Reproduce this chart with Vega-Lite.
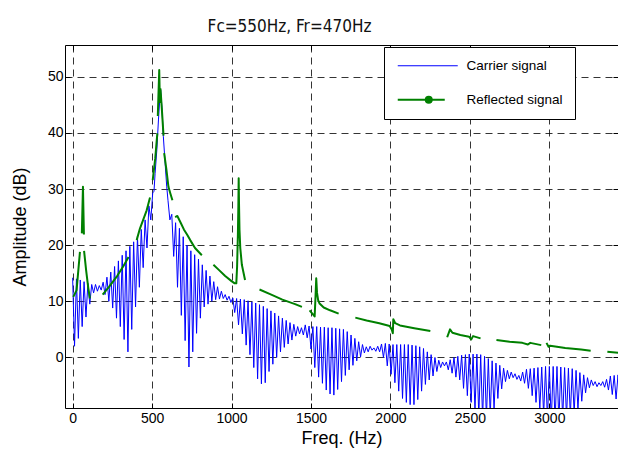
{
  "$schema": "https://vega.github.io/schema/vega-lite/v6.json",
  "width": 553,
  "height": 363,
  "autosize": {"type": "none"},
  "padding": {"left": 65, "top": 45, "right": 0, "bottom": 46},
  "background": "white",
  "title": {
    "text": "Fc=550Hz, Fr=470Hz",
    "anchor": "middle",
    "dx": -52,
    "dy": 22,
    "offset": 18,
    "baseline": "alphabetic",
    "font": "Liberation Sans Narrow, DejaVu Sans Condensed, sans-serif",
    "fontSize": 17,
    "fontWeight": "normal",
    "color": "#111"
  },
  "config": {
    "view": {"stroke": "#000", "strokeWidth": 1},
    "font": "Liberation Sans"
  },
  "datasets": {
    "carrier": [
      {"f":0,"a":14.2},{"f":12,"a":2.0},{"f":24,"a":14.0},{"f":36,"a":3.4},{"f":48,"a":13.8},{"f":60,"a":5.5},{"f":72,"a":13.5},{"f":84,"a":7.2},{"f":96,"a":13.2},{"f":108,"a":9.5},
      {"f":120,"a":13.0},{"f":132,"a":11.5},{"f":144,"a":13.0},{"f":156,"a":11.8},{"f":168,"a":12.8},{"f":180,"a":12.0},{"f":192,"a":13.4},{"f":204,"a":11.2},{"f":216,"a":14.3},{"f":228,"a":10.0},
      {"f":240,"a":15.2},{"f":252,"a":8.8},{"f":264,"a":16.2},{"f":276,"a":7.0},{"f":288,"a":17.2},{"f":300,"a":5.5},{"f":312,"a":18.2},{"f":324,"a":3.2},{"f":336,"a":19.0},{"f":348,"a":1.0},
      {"f":360,"a":19.8},{"f":372,"a":5.0},{"f":384,"a":20.6},{"f":396,"a":9.0},{"f":408,"a":21.6},{"f":420,"a":12.5},{"f":432,"a":22.8},{"f":444,"a":16.0},{"f":456,"a":24.5},{"f":468,"a":19.5},
      {"f":480,"a":27.0},{"f":492,"a":24.5},{"f":504,"a":29.3},{"f":512,"a":29.6},{"f":519,"a":32.8},{"f":530,"a":37.0},{"f":540,"a":42.3},{"f":548,"a":45.8},{"f":554,"a":47.6},{"f":562,"a":44.5},
      {"f":571,"a":39.3},{"f":582,"a":34.6},{"f":592,"a":30.5},{"f":600,"a":28.0},
      {"f":612,"a":24.5},{"f":624,"a":25.5},{"f":636,"a":18.0},{"f":648,"a":24.0},{"f":660,"a":12.5},{"f":672,"a":23.0},{"f":684,"a":7.5},{"f":696,"a":21.5},{"f":708,"a":3.0},{"f":720,"a":20.0},
      {"f":732,"a":-1.7},{"f":744,"a":19.0},{"f":756,"a":1.0},{"f":768,"a":18.3},{"f":780,"a":4.3},{"f":792,"a":17.5},{"f":804,"a":7.0},{"f":816,"a":16.5},{"f":828,"a":9.0},{"f":840,"a":15.5},
      {"f":852,"a":9.5},{"f":864,"a":14.5},{"f":876,"a":10.0},{"f":888,"a":13.5},{"f":900,"a":10.3},{"f":912,"a":12.6},{"f":924,"a":10.4},{"f":936,"a":11.8},{"f":948,"a":10.5},{"f":960,"a":11.2},
      {"f":972,"a":10.2},{"f":984,"a":10.9},{"f":996,"a":9.8},{"f":1008,"a":10.6},{"f":1020,"a":8.0},{"f":1032,"a":10.5},{"f":1044,"a":5.8},{"f":1056,"a":10.4},{"f":1068,"a":4.2},{"f":1080,"a":10.3},
      {"f":1092,"a":2.2},{"f":1104,"a":10.1},{"f":1116,"a":0.5},{"f":1128,"a":9.9},{"f":1140,"a":-1.8},{"f":1152,"a":9.7},{"f":1164,"a":-3.8},{"f":1176,"a":9.4},{"f":1188,"a":-4.7},{"f":1200,"a":9.1},
      {"f":1212,"a":-4.5},{"f":1224,"a":8.7},{"f":1236,"a":-2.5},{"f":1248,"a":8.3},{"f":1260,"a":-1.2},{"f":1272,"a":7.9},{"f":1284,"a":0.0},{"f":1296,"a":7.4},{"f":1308,"a":1.0},{"f":1320,"a":7.0},
      {"f":1332,"a":1.8},{"f":1344,"a":6.6},{"f":1356,"a":2.4},{"f":1368,"a":6.2},{"f":1380,"a":3.1},{"f":1392,"a":5.9},{"f":1404,"a":3.8},{"f":1416,"a":5.5},{"f":1428,"a":4.2},{"f":1440,"a":5.3},
      {"f":1452,"a":4.0},{"f":1464,"a":5.8},{"f":1476,"a":3.5},{"f":1488,"a":5.6},{"f":1500,"a":1.5},{"f":1512,"a":5.5},{"f":1524,"a":-1.8},{"f":1536,"a":5.5},{"f":1548,"a":-3.5},{"f":1560,"a":5.4},
      {"f":1572,"a":-4.6},{"f":1584,"a":5.4},{"f":1596,"a":-5.8},{"f":1608,"a":5.3},{"f":1620,"a":-6.5},{"f":1632,"a":5.3},{"f":1644,"a":-6.7},{"f":1656,"a":5.2},{"f":1668,"a":-5.7},{"f":1680,"a":5.1},
      {"f":1692,"a":-4.3},{"f":1704,"a":5.0},{"f":1716,"a":-3.2},{"f":1728,"a":4.6},{"f":1740,"a":-2.2},{"f":1752,"a":4.0},{"f":1764,"a":-1.4},{"f":1776,"a":3.4},{"f":1788,"a":-0.6},{"f":1800,"a":2.8},
      {"f":1812,"a":0.1},{"f":1824,"a":2.3},{"f":1836,"a":0.8},{"f":1848,"a":1.9},{"f":1860,"a":1.0},{"f":1872,"a":2.0},{"f":1884,"a":1.3},{"f":1896,"a":1.7},{"f":1908,"a":1.1},{"f":1920,"a":2.0},
      {"f":1932,"a":1.0},{"f":1944,"a":2.4},{"f":1956,"a":0.0},{"f":1968,"a":2.5},{"f":1980,"a":-1.5},{"f":1992,"a":2.4},{"f":2004,"a":-3.0},{"f":2016,"a":2.3},{"f":2028,"a":-4.5},{"f":2040,"a":2.3},
      {"f":2052,"a":-6.0},{"f":2064,"a":2.3},{"f":2076,"a":-7.3},{"f":2088,"a":2.3},{"f":2100,"a":-8.0},{"f":2112,"a":2.3},{"f":2124,"a":-8.4},{"f":2136,"a":2.2},{"f":2148,"a":-8.4},{"f":2160,"a":2.1},
      {"f":2172,"a":-7.5},{"f":2184,"a":1.9},{"f":2196,"a":-6.0},{"f":2208,"a":1.6},{"f":2220,"a":-4.8},{"f":2232,"a":1.0},{"f":2244,"a":-4.0},{"f":2256,"a":0.5},{"f":2268,"a":-3.3},{"f":2280,"a":0.0},
      {"f":2292,"a":-2.5},{"f":2304,"a":-0.5},{"f":2316,"a":-1.8},{"f":2328,"a":-0.8},{"f":2340,"a":-1.5},{"f":2352,"a":-0.8},{"f":2364,"a":-2.2},{"f":2376,"a":-0.4},{"f":2388,"a":-2.8},{"f":2400,"a":0.0},
      {"f":2412,"a":-3.5},{"f":2424,"a":0.2},{"f":2436,"a":-4.0},{"f":2448,"a":0.4},{"f":2460,"a":-5.5},{"f":2472,"a":0.5},{"f":2484,"a":-6.8},{"f":2496,"a":0.6},{"f":2508,"a":-8.0},{"f":2520,"a":0.6},
      {"f":2532,"a":-9.5},{"f":2544,"a":0.6},{"f":2556,"a":-10.5},{"f":2568,"a":0.5},{"f":2580,"a":-11.0},{"f":2592,"a":0.2},{"f":2604,"a":-11.0},{"f":2616,"a":-0.2},{"f":2628,"a":-10.5},{"f":2640,"a":-0.6},
      {"f":2652,"a":-9.3},{"f":2664,"a":-1.0},{"f":2676,"a":-7.3},{"f":2688,"a":-1.4},{"f":2700,"a":-5.6},{"f":2712,"a":-1.9},{"f":2724,"a":-4.3},{"f":2736,"a":-2.3},{"f":2748,"a":-3.8},{"f":2760,"a":-2.6},
      {"f":2772,"a":-3.6},{"f":2784,"a":-2.9},{"f":2796,"a":-3.9},{"f":2808,"a":-3.2},{"f":2820,"a":-4.2},{"f":2832,"a":-2.6},{"f":2844,"a":-4.6},{"f":2856,"a":-2.1},{"f":2868,"a":-5.5},{"f":2880,"a":-2.0},
      {"f":2892,"a":-6.8},{"f":2904,"a":-1.9},{"f":2916,"a":-8.0},{"f":2928,"a":-1.8},{"f":2940,"a":-9.2},{"f":2952,"a":-1.7},{"f":2964,"a":-10.3},{"f":2976,"a":-1.6},{"f":2988,"a":-11.0},{"f":3000,"a":-1.6},
      {"f":3012,"a":-11.5},{"f":3024,"a":-1.6},{"f":3036,"a":-11.5},{"f":3048,"a":-1.6},{"f":3060,"a":-11.5},{"f":3072,"a":-1.7},{"f":3084,"a":-11.0},{"f":3096,"a":-1.8},{"f":3108,"a":-10.8},{"f":3120,"a":-1.9},
      {"f":3132,"a":-10.5},{"f":3144,"a":-2.0},{"f":3156,"a":-10.0},{"f":3168,"a":-2.3},{"f":3180,"a":-9.2},{"f":3192,"a":-2.7},{"f":3204,"a":-7.8},{"f":3216,"a":-3.1},{"f":3228,"a":-6.3},{"f":3240,"a":-3.6},
      {"f":3252,"a":-5.4},{"f":3264,"a":-4.0},{"f":3276,"a":-5.0},{"f":3288,"a":-4.3},{"f":3300,"a":-5.2},{"f":3312,"a":-4.5},{"f":3324,"a":-5.0},{"f":3336,"a":-4.3},{"f":3348,"a":-5.3},{"f":3360,"a":-3.9},
      {"f":3372,"a":-5.8},{"f":3384,"a":-3.3},{"f":3396,"a":-6.6},{"f":3408,"a":-3.2},{"f":3420,"a":-7.4},{"f":3432,"a":-3.1},{"f":3444,"a":-7.8}
    ],
    "reflected": [
      {"f":4,"a":10.8,"s":1},{"f":25,"a":12.0,"s":1},{"f":46,"a":18.8,"s":1},
      {"f":58,"a":22.1,"s":2},{"f":65,"a":30.4,"s":2},{"f":71,"a":21.9,"s":2},
      {"f":72,"a":19.0,"s":3},{"f":85,"a":15.5,"s":3},{"f":98,"a":12.5,"s":3},{"f":109,"a":10.5,"s":3},
      {"f":189,"a":11.2,"s":4},{"f":230,"a":12.6,"s":4},{"f":280,"a":14.5,"s":4},{"f":320,"a":16.3,"s":4},{"f":352,"a":17.9,"s":4},
      {"f":403,"a":20.9,"s":5},{"f":424,"a":23.0,"s":5},{"f":466,"a":26.2,"s":5},{"f":487,"a":28.5,"s":5},
      {"f":504,"a":31.6,"s":6},{"f":520,"a":35.5,"s":6},{"f":533,"a":39.9,"s":6},
      {"f":536,"a":43.0,"s":7},{"f":545,"a":51.2,"s":7},{"f":549,"a":45.5,"s":7},{"f":553,"a":47.8,"s":7},{"f":562,"a":44.0,"s":7},{"f":572,"a":39.5,"s":7},
      {"f":576,"a":36.4,"s":8},{"f":590,"a":33.5,"s":8},{"f":603,"a":30.4,"s":8},{"f":615,"a":29.2,"s":8},{"f":628,"a":28.0,"s":8},
      {"f":645,"a":25.0,"s":9},{"f":659,"a":25.2,"s":9},{"f":680,"a":24.0,"s":9},{"f":700,"a":22.8,"s":9},{"f":720,"a":21.9,"s":9},{"f":740,"a":20.9,"s":9},{"f":770,"a":19.5,"s":9},{"f":813,"a":18.2,"s":9},
      {"f":886,"a":16.5,"s":10},{"f":920,"a":15.6,"s":10},{"f":960,"a":14.5,"s":10},{"f":1000,"a":13.6,"s":10},{"f":1020,"a":13.2,"s":10},{"f":1030,"a":13.2,"s":10},{"f":1035,"a":16.2,"s":10},{"f":1040,"a":22.0,"s":10},{"f":1043,"a":27.0,"s":10},{"f":1045,"a":31.9,"s":10},{"f":1047,"a":27.5,"s":10},{"f":1050,"a":22.8,"s":10},{"f":1055,"a":19.5,"s":10},{"f":1065,"a":16.5,"s":10},{"f":1085,"a":13.8,"s":10},
      {"f":1176,"a":12.1,"s":11},{"f":1250,"a":11.2,"s":11},{"f":1320,"a":10.3,"s":11},{"f":1400,"a":9.5,"s":11},{"f":1443,"a":9.0,"s":11},
      {"f":1491,"a":8.4,"s":12},{"f":1515,"a":7.6,"s":12},{"f":1523,"a":7.3,"s":12},{"f":1528,"a":10.5,"s":12},{"f":1533,"a":14.1,"s":12},{"f":1538,"a":11.5,"s":12},{"f":1545,"a":10.2,"s":12},{"f":1554,"a":9.6,"s":12},{"f":1580,"a":8.9,"s":12},{"f":1620,"a":8.4,"s":12},{"f":1674,"a":7.8,"s":12},
      {"f":1779,"a":7.1,"s":13},{"f":1850,"a":6.6,"s":13},{"f":1930,"a":6.1,"s":13},{"f":1995,"a":5.6,"s":13},{"f":2008,"a":5.0,"s":13},{"f":2015,"a":4.3,"s":13},{"f":2018,"a":6.8,"s":13},{"f":2030,"a":6.1,"s":13},{"f":2060,"a":5.7,"s":13},{"f":2150,"a":5.2,"s":13},{"f":2251,"a":4.7,"s":13},
      {"f":2357,"a":3.6,"s":14},{"f":2375,"a":5.0,"s":14},{"f":2390,"a":4.4,"s":14},{"f":2440,"a":4.0,"s":14},{"f":2495,"a":3.7,"s":14},{"f":2508,"a":3.2,"s":14},{"f":2520,"a":3.8,"s":14},{"f":2567,"a":3.4,"s":14},
      {"f":2667,"a":3.1,"s":15},{"f":2750,"a":2.8,"s":15},{"f":2830,"a":2.6,"s":15},{"f":2865,"a":2.3,"s":15},{"f":2880,"a":2.6,"s":15},{"f":2949,"a":2.2,"s":15},
      {"f":2982,"a":2.6,"s":16},{"f":2995,"a":1.9,"s":16},{"f":3005,"a":2.1,"s":16},{"f":3100,"a":1.7,"s":16},{"f":3200,"a":1.4,"s":16},{"f":3260,"a":1.2,"s":16},
      {"f":3365,"a":1.0,"s":17},{"f":3440,"a":0.8,"s":17}
    ]
  },
  "resolve": {"axis": {"x": "independent", "y": "independent"}},
  "layer": [
    {
      "data": {"name": "carrier"},
      "mark": {"type": "line", "strokeWidth": 1, "clip": true},
      "encoding": {
        "x": {
          "field": "f", "type": "quantitative",
          "scale": {"domain": [-48, 3432], "nice": false, "zero": false},
          "axis": {
            "orient": "bottom", "values": [0,500,1000,1500,2000,2500,3000], "format": "d", "title": "Freq. (Hz)",
            "grid": true, "gridDash": [7,5], "gridColor": "#000", "gridOpacity": 1, "gridWidth": 0.8,
            "domain": false, "tickSize": -5, "tickColor": "#000", "labelPadding": 8, "labelFlush": false,
            "labelFontSize": 14, "labelColor": "#000", "labelFont": "Liberation Sans",
            "titleFont": "Liberation Sans", "titleFontSize": 18, "titleFontWeight": "normal", "titleColor": "#000", "titlePadding": 4
          }
        },
        "y": {
          "field": "a", "type": "quantitative",
          "scale": {"domain": [-9, 55.65], "nice": false, "zero": false},
          "axis": {
            "orient": "left", "values": [0,10,20,30,40,50], "format": "d", "title": "Amplitude (dB)",
            "grid": true, "gridDash": [7,5], "gridColor": "#000", "gridOpacity": 1, "gridWidth": 0.8,
            "domain": false, "tickSize": -5, "tickColor": "#000", "labelPadding": 7, "labelFlush": false,
            "labelFontSize": 14, "labelColor": "#000", "labelFont": "Liberation Sans",
            "titleFont": "Liberation Sans", "titleFontSize": 18, "titleFontWeight": "normal", "titleColor": "#000", "titlePadding": 18
          }
        },
        "color": {
          "datum": "Carrier signal",
          "scale": {"domain": ["Carrier signal", "Reflected signal"], "range": ["#0000ff", "#008000"]},
          "legend": {
            "orient": "none", "legendX": 319, "legendY": 2, "title": null,
            "symbolType": "M-1,0H11", "symbolSize": 100, "symbolStrokeWidth": 1,
            "labelFontSize": 13.5, "labelFont": "Liberation Sans", "labelColor": "#000", "labelOffset": 57, "labelLimit": 500,
            "labelExpr": "datum.label + '\u00a0\u00a0\u00a0\u00a0\u00a0\u00a0\u00a0\u00a0\u00a0\u00a0\u00a0\u00a0\u00a0\u00a0\u00a0\u00a0\u00a0\u00a0'",
            "strokeColor": "#000", "fillColor": "#fff", "padding": 12, "rowPadding": 19, "cornerRadius": 0,
            "encode": {
              "symbols": {
                "update": {
                  "shape": {"signal": "datum.value === 'Reflected signal' ? 'M-1,0H8.4M4.6,0a0.6,0.6 0 1,0 1.2,0a0.6,0.6 0 1,0 -1.2,0' : 'M-1,0H11'"},
                  "strokeWidth": {"signal": "datum.value === 'Reflected signal' ? 2 : 1"},
                  "fill": {"signal": "datum.value === 'Reflected signal' ? '#008000' : 'transparent'"}
                }
              }
            }
          }
        }
      }
    },
    {
      "data": {"name": "reflected"},
      "mark": {"type": "line", "strokeWidth": 2, "clip": true, "strokeJoin": "round"},
      "encoding": {
        "x": {
          "field": "f", "type": "quantitative",
          "axis": {"orient": "top", "values": [0,500,1000,1500,2000,2500,3000], "labels": false, "title": null, "grid": false, "domain": false, "tickSize": -5, "tickColor": "#000"}
        },
        "y": {
          "field": "a", "type": "quantitative",
          "axis": {"orient": "right", "values": [0,10,20,30,40,50], "labels": false, "title": null, "grid": false, "domain": false, "tickSize": -5, "tickColor": "#000"}
        },
        "detail": {"field": "s", "type": "nominal"},
        "color": {"datum": "Reflected signal"}
      }
    }
  ]
}
